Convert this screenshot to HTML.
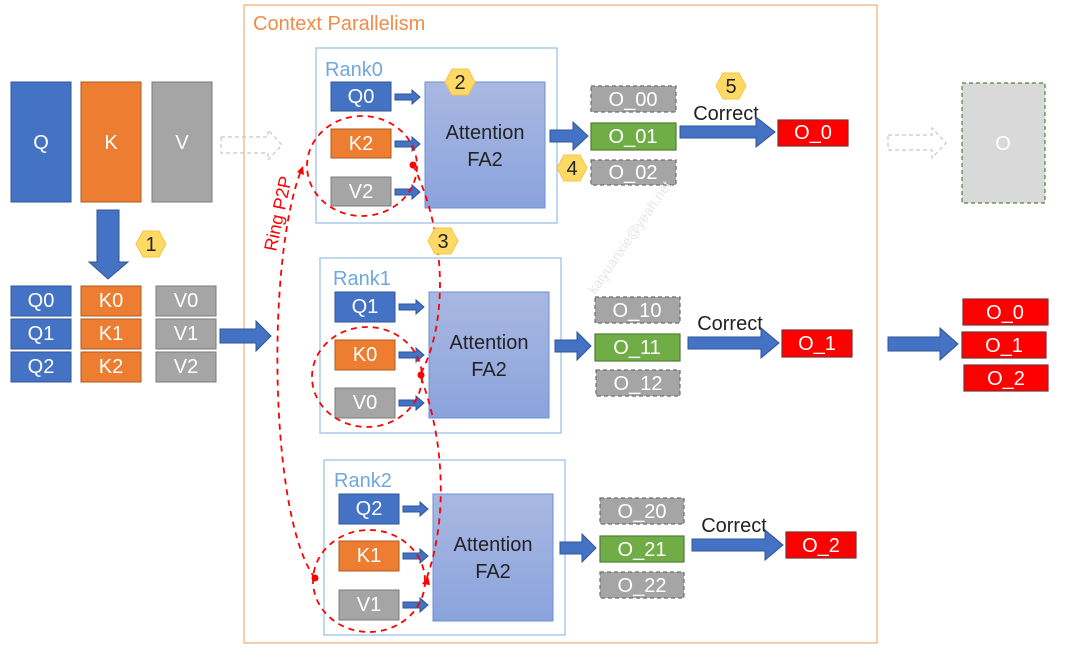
<!DOCTYPE html>
<html><head><meta charset="utf-8"><style>
body{margin:0;background:#fff}
svg{display:block;font-family:"Liberation Sans","DejaVu Sans",sans-serif}
.w{fill:#fff;font-size:20px;text-anchor:middle;dominant-baseline:central}
.d{fill:#222;font-size:20px;text-anchor:middle;dominant-baseline:central}
.bl{fill:#4472c4;stroke:#2f5597;stroke-width:1}
.or{fill:#ed7d31;stroke:#ae5a21;stroke-width:1}
.gr{fill:#a5a5a5;stroke:#7b7b7b;stroke-width:1}
.gd{fill:#a5a5a5;stroke:#6d6d6d;stroke-width:1.2;stroke-dasharray:4 3}
.gn{fill:#70ad47;stroke:#507e32;stroke-width:1.2}
.rd{fill:#ff0000;stroke:#7f3030;stroke-width:1.2}
.ar{fill:#4472c4;stroke:#2f5597;stroke-width:1}
.rk{fill:#fff;stroke:#9dc3e6;stroke-width:1.3}
.at{fill:url(#g);stroke:#6b8fd6;stroke-width:1}
.hx{fill:#ffd966;stroke:#f4c542;stroke-width:1}
.rl{fill:none;stroke:#ff0000;stroke-width:1.8;stroke-dasharray:6 5}
.lab{fill:#6fa8dc;font-size:20px}
</style></head><body>
<svg width="1080" height="658" viewBox="0 0 1080 658">
<defs><linearGradient id="g" x1="0" y1="0" x2="0" y2="1"><stop offset="0" stop-color="#a9b8e2"/><stop offset="1" stop-color="#8ba3dc"/></linearGradient></defs>
<rect x="244" y="5" width="633" height="638" fill="none" stroke="#f4b183" stroke-width="1.3"/>
<text x="253" y="30" fill="#f08c4a" font-size="20">Context Parallelism</text>

<rect class="bl" x="11" y="82" width="60" height="120"/><text class="w" x="41" y="143">Q</text>
<rect class="or" x="81" y="82" width="60" height="120"/><text class="w" x="111" y="143">K</text>
<rect class="gr" x="152" y="82" width="60" height="120"/><text class="w" x="182" y="143">V</text>
<polygon points="221,137 268,137 268,130 282,145 268,160 268,153 221,153" fill="none" stroke="#c8c8c8" stroke-width="1.2" stroke-dasharray="4 3"/>
<polygon class="ar" points="97,210 119,210 119,262 128,262 108,279 89,262 97,262"/>
<polygon class="hx" points="136,244 143,231 159,231 166,244 159,257 143,257"/><text class="d" x="151" y="245">1</text>

<rect class="bl" x="11" y="286" width="60" height="30"/><text class="w" x="41" y="301">Q0</text>
<rect class="bl" x="11" y="319" width="60" height="30"/><text class="w" x="41" y="334">Q1</text>
<rect class="bl" x="11" y="352" width="60" height="30"/><text class="w" x="41" y="367">Q2</text>
<rect class="or" x="81" y="286" width="60" height="30"/><text class="w" x="111" y="301">K0</text>
<rect class="or" x="81" y="319" width="60" height="30"/><text class="w" x="111" y="334">K1</text>
<rect class="or" x="81" y="352" width="60" height="30"/><text class="w" x="111" y="367">K2</text>
<rect class="gr" x="156" y="286" width="60" height="30"/><text class="w" x="186" y="301">V0</text>
<rect class="gr" x="156" y="319" width="60" height="30"/><text class="w" x="186" y="334">V1</text>
<rect class="gr" x="156" y="352" width="60" height="30"/><text class="w" x="186" y="367">V2</text>
<polygon class="ar" points="220,329 256,329 256,321 271,336 256,351 256,343 220,343"/>

<!-- Rank0 -->
<rect class="rk" x="316" y="48" width="241" height="175"/>
<text class="lab" x="325" y="76">Rank0</text>
<rect class="bl" x="331" y="82" width="60" height="29"/><text class="w" x="361" y="97">Q0</text>
<rect class="or" x="331" y="129" width="60" height="29"/><text class="w" x="361" y="144">K2</text>
<rect class="gr" x="331" y="177" width="60" height="29"/><text class="w" x="361" y="192">V2</text>
<polygon class="ar" points="395,94 412,94 412,90 420,97 412,104 412,100 395,100"/>
<polygon class="ar" points="395,141 412,141 412,137 420,144 412,151 412,147 395,147"/>
<polygon class="ar" points="395,189 412,189 412,185 420,192 412,199 412,195 395,195"/>
<rect class="at" x="425" y="82" width="120" height="126"/>
<text class="d" x="485" y="133">Attention</text><text class="d" x="485" y="160">FA2</text>
<polygon class="hx" points="445,82 452,69 468,69 475,82 468,95 452,95"/><text class="d" x="460" y="83">2</text>
<polygon class="ar" points="550,130 573,130 573,122 588,136 573,150 573,142 550,142"/>
<rect class="gd" x="591" y="86" width="85" height="26"/><text class="w" x="633" y="100">O_00</text>
<rect class="gn" x="591" y="123" width="85" height="27"/><text class="w" x="633" y="137">O_01</text>
<rect class="gd" x="591" y="160" width="85" height="25"/><text class="w" x="633" y="173">O_02</text>
<polygon class="hx" points="557,168 564,155 580,155 587,168 580,181 564,181"/><text class="d" x="572" y="169">4</text>
<polygon class="hx" points="716,86 723,73 739,73 746,86 739,99 723,99"/><text class="d" x="731" y="87">5</text>
<text class="d" x="726" y="114">Correct</text>
<polygon class="ar" points="680,126 756,126 756,117 775,132 756,147 756,138 680,138"/>
<rect class="rd" x="778" y="120" width="70" height="26"/><text class="w" x="813" y="133">O_0</text>
<polygon points="888,135 932,135 932,128 946,143 932,158 932,150 888,150" fill="none" stroke="#c8c8c8" stroke-width="1.2" stroke-dasharray="4 3"/>
<rect x="962" y="83" width="83" height="120" fill="#d9d9d9" stroke="#548235" stroke-width="1.2" stroke-dasharray="4 3"/>
<text class="w" x="1003" y="144">O</text>

<!-- Rank1 -->
<rect class="rk" x="320" y="258" width="241" height="175"/>
<text class="lab" x="333" y="285">Rank1</text>
<rect class="bl" x="335" y="292" width="60" height="30"/><text class="w" x="365" y="307">Q1</text>
<rect class="or" x="335" y="340" width="60" height="30"/><text class="w" x="365" y="355">K0</text>
<rect class="gr" x="335" y="388" width="60" height="30"/><text class="w" x="365" y="403">V0</text>
<polygon class="ar" points="399,304 416,304 416,300 424,307 416,314 416,310 399,310"/>
<polygon class="ar" points="399,352 416,352 416,348 424,355 416,362 416,358 399,358"/>
<polygon class="ar" points="399,400 416,400 416,396 424,403 416,410 416,406 399,406"/>
<rect class="at" x="429" y="292" width="120" height="126"/>
<text class="d" x="489" y="343">Attention</text><text class="d" x="489" y="370">FA2</text>
<polygon class="ar" points="555,340 577,340 577,332 591,346 577,360 577,352 555,352"/>
<rect class="gd" x="595" y="297" width="85" height="26"/><text class="w" x="637" y="311">O_10</text>
<rect class="gn" x="595" y="334" width="85" height="27"/><text class="w" x="637" y="348">O_11</text>
<rect class="gd" x="596" y="370" width="84" height="26"/><text class="w" x="638" y="384">O_12</text>
<text class="d" x="730" y="324">Correct</text>
<polygon class="ar" points="688,337 761,337 761,328 779,343 761,358 761,349 688,349"/>
<rect class="rd" x="782" y="330" width="70" height="27"/><text class="w" x="817" y="344">O_1</text>
<polygon class="ar" points="888,337 940,337 940,328 958,344 940,360 940,351 888,351"/>
<rect class="rd" x="963" y="299" width="85" height="26"/><text class="w" x="1005" y="313">O_0</text>
<rect class="rd" x="962" y="332" width="84" height="26"/><text class="w" x="1004" y="346">O_1</text>
<rect class="rd" x="964" y="365" width="84" height="26"/><text class="w" x="1006" y="379">O_2</text>

<!-- Rank2 -->
<rect class="rk" x="324" y="460" width="241" height="175"/>
<text class="lab" x="334" y="487">Rank2</text>
<rect class="bl" x="339" y="494" width="60" height="30"/><text class="w" x="369" y="509">Q2</text>
<rect class="or" x="339" y="541" width="60" height="30"/><text class="w" x="369" y="556">K1</text>
<rect class="gr" x="339" y="590" width="60" height="30"/><text class="w" x="369" y="605">V1</text>
<polygon class="ar" points="403,506 420,506 420,502 428,509 420,516 420,512 403,512"/>
<polygon class="ar" points="403,553 420,553 420,549 428,556 420,563 420,559 403,559"/>
<polygon class="ar" points="403,602 420,602 420,598 428,605 420,612 420,608 403,608"/>
<rect class="at" x="433" y="494" width="120" height="127"/>
<text class="d" x="493" y="545">Attention</text><text class="d" x="493" y="572">FA2</text>
<polygon class="ar" points="560,542 582,542 582,534 596,548 582,562 582,554 560,554"/>
<rect class="gd" x="600" y="498" width="84" height="26"/><text class="w" x="642" y="512">O_20</text>
<rect class="gn" x="600" y="536" width="84" height="26"/><text class="w" x="642" y="550">O_21</text>
<rect class="gd" x="600" y="572" width="84" height="26"/><text class="w" x="642" y="586">O_22</text>
<text class="d" x="734" y="526">Correct</text>
<polygon class="ar" points="692,539 765,539 765,530 783,545 765,560 765,551 692,551"/>
<rect class="rd" x="786" y="532" width="70" height="26"/><text class="w" x="821" y="546">O_2</text>

<ellipse class="rl" cx="362" cy="166" rx="55" ry="50"/>
<ellipse class="rl" cx="367" cy="377" rx="55" ry="50"/>
<ellipse class="rl" cx="369" cy="581" rx="56" ry="51"/>
<path class="rl" d="M315,578 C270,520 265,260 302,168"/>
<path class="rl" d="M413,165 C445,230 450,320 420,375 C445,440 448,520 426,580"/>
<circle cx="315" cy="578" r="3.5" fill="#ff0000"/><circle cx="413" cy="165" r="3.5" fill="#ff0000"/><circle cx="421" cy="375" r="3.5" fill="#ff0000"/>
<polygon points="297,172 303,166 304,175" fill="#ff0000"/>
<polygon points="422,584 428,576 430,585" fill="#ff0000"/>
<polygon class="hx" points="428,241 435,228 451,228 458,241 451,254 435,254"/><text class="d" x="443" y="242">3</text>
<text x="0" y="0" fill="#ff0000" font-size="18" transform="translate(276,252) rotate(-78)">Ring P2P</text>
<text x="0" y="0" fill="#e6e6e6" font-size="14" transform="translate(595,295) rotate(-55)">kaiyuanxie@yeah.net</text>
</svg>
</body></html>
